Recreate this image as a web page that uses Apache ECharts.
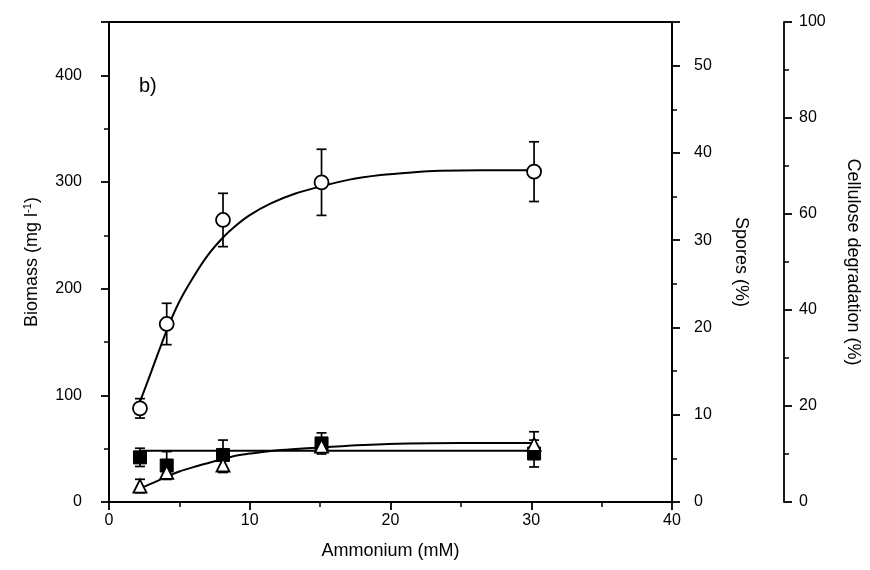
<!DOCTYPE html>
<html>
<head>
<meta charset="utf-8">
<script src="https://cdn.jsdelivr.net/npm/echarts@6/dist/echarts.min.js"></script>
<style>
  html, body { margin: 0; padding: 0; background: #fff; }
  #chart { width: 870px; height: 570px; }
</style>
</head>
<body>
<div id="chart"></div>
<script>
// ammonium concentrations (mM)
const ammonium = [2.2, 4.1, 8.1, 15.1, 30.2];
// biomass, open circles (mg l-1)
const biomass = [87.8, 166.9, 264.4, 299.7, 309.7];
const biomassErr = [9.1, 19.4, 25, 31, 28];
// spores, open triangles (%)
const spores = [1.83, 3.4, 4.24, 6.4, 6.6];
const sporesErr = [0.77, 0.3, 0.86, 0.6, 1.45];
// cellulose degradation, filled squares (%)
const cellulose = [9.3, 7.6, 9.8, 12.2, 10.1];
const celluloseErr = [1.9, 2.9, 3.1, 2.2, 2.8];
// fitted curves
const biomassFitX = [2.2, 3, 4.1, 5, 6, 7, 8.1, 9, 10, 11.5, 13.2, 15.1, 17, 19.3, 21.5, 23.5, 26.5, 30.2];
const biomassFit = [94, 122, 161, 188, 211, 231, 248, 259, 269, 280, 289, 296, 302, 306.5, 309, 310.5, 311, 311];
const sporesFitX = [2.2, 3, 4.1, 5, 6, 7, 8.1, 9, 10.1, 11.5, 13, 15.1, 17, 20.5, 25, 30.2];
const sporesFit = [1.56, 2.1, 2.9, 3.5, 4.0, 4.45, 4.93, 5.3, 5.57, 5.85, 6.05, 6.25, 6.45, 6.68, 6.75, 6.76];
const celluloseFitX = [2.2, 30.2];
const celluloseFit = [10.7, 10.7];

const zip = (xs, ys) => xs.map((x, i) => [x, ys[i]]);
const zip3 = (xs, ys, es) => xs.map((x, i) => [x, ys[i], es[i]]);

const font = 'Liberation Sans, Arial, sans-serif';

// error bar with caps
function errorBar(params, api) {
  const x = api.value(0), y = api.value(1), e = api.value(2);
  const top = api.coord([x, y + e]);
  const bot = api.coord([x, y - e]);
  const w = 5;
  const st = { stroke: '#000', lineWidth: 1.7 };
  return {
    type: 'group',
    children: [
      { type: 'line', shape: { x1: top[0], y1: top[1], x2: bot[0], y2: bot[1] }, style: st },
      { type: 'line', shape: { x1: top[0] - w, y1: top[1], x2: top[0] + w, y2: top[1] }, style: st },
      { type: 'line', shape: { x1: bot[0] - w, y1: bot[1], x2: bot[0] + w, y2: bot[1] }, style: st }
    ]
  };
}

const chart = echarts.init(document.getElementById('chart'));

const axisLine = { show: true, lineStyle: { color: '#000', width: 1.8 } };
const tick = { show: true, inside: false, length: 8, lineStyle: { color: '#000', width: 1.8 } };
const minor = { show: true, splitNumber: 2, length: 5, lineStyle: { color: '#000', width: 1.5 } };
const label = { color: '#000', fontSize: 16, fontFamily: font };
const nameStyle = { color: '#000', fontSize: 18, fontFamily: font };

chart.setOption({
  animation: false,
  backgroundColor: '#fff',
  grid: { left: 109, right: 198, top: 22, bottom: 68, show: true, borderColor: '#000', borderWidth: 1.8 },
  graphic: [{
    type: 'text', left: 139, top: 76,
    style: { text: 'b)', fontSize: 20, fontFamily: font, fill: '#000' }
  }],
  xAxis: {
    type: 'value', min: 0, max: 40, interval: 10,
    name: 'Ammonium (mM)', nameLocation: 'middle', nameGap: 40, nameTextStyle: nameStyle,
    axisLine: axisLine, axisTick: tick, minorTick: minor,
    axisLabel: Object.assign({ margin: 11 }, label),
    splitLine: { show: false }
  },
  yAxis: [
    {
      type: 'value', position: 'left', min: 0, max: 450, interval: 100,
      name: '{t|Biomass (mg l}{s|-1}{t|)}', nameLocation: 'middle', nameGap: 66,
      nameTextStyle: {
        rich: {
          t: { color: '#000', fontSize: 18, fontFamily: font },
          s: { color: '#000', fontSize: 11, fontFamily: font, verticalAlign: 'top', padding: [0, 0, 10, 0] }
        }
      },
      axisLine: axisLine, axisTick: tick, minorTick: minor,
      axisLabel: Object.assign({ margin: 27, showMaxLabel: false }, label),
      splitLine: { show: false }
    },
    {
      type: 'value', position: 'right', min: 0, max: 55, interval: 10,
      name: 'Spores (%)', nameLocation: 'middle', nameGap: 60, nameRotate: -90, nameTextStyle: nameStyle,
      axisLine: axisLine, axisTick: tick, minorTick: minor,
      axisLabel: Object.assign({ margin: 22, showMaxLabel: false, padding: [0, 0, 12, 0] }, label),
      splitLine: { show: false }
    },
    {
      type: 'value', position: 'right', offset: 112, min: 0, max: 100, interval: 20,
      name: 'Cellulose degradation (%)', nameLocation: 'middle', nameGap: 60, nameRotate: -90, nameTextStyle: nameStyle,
      axisLine: axisLine, axisTick: tick, minorTick: minor,
      axisLabel: Object.assign({ margin: 15, padding: [0, 0, 12, 0] }, label),
      splitLine: { show: false }
    }
  ],
  series: [
    // fit curves
    {
      type: 'line', yAxisIndex: 0, data: zip(biomassFitX, biomassFit), smooth: 0.3,
      showSymbol: false, lineStyle: { color: '#000', width: 2 }, z: 1
    },
    {
      type: 'line', yAxisIndex: 1, data: zip(sporesFitX, sporesFit), smooth: 0.3,
      showSymbol: false, lineStyle: { color: '#000', width: 2 }, z: 1
    },
    {
      type: 'line', yAxisIndex: 2, data: zip(celluloseFitX, celluloseFit),
      showSymbol: false, lineStyle: { color: '#000', width: 2 }, z: 1
    },
    // error bars
    { type: 'custom', yAxisIndex: 0, renderItem: errorBar, data: zip3(ammonium, biomass, biomassErr), encode: { x: 0, y: 1 }, z: 2 },
    { type: 'custom', yAxisIndex: 2, renderItem: errorBar, data: zip3(ammonium, cellulose, celluloseErr), encode: { x: 0, y: 1 }, z: 2 },
    { type: 'custom', yAxisIndex: 1, renderItem: errorBar, data: zip3(ammonium, spores, sporesErr), encode: { x: 0, y: 1 }, z: 2 },
    // markers
    {
      type: 'scatter', yAxisIndex: 0, data: zip(ammonium, biomass), symbol: 'circle', symbolSize: 14,
      itemStyle: { color: '#fff', borderColor: '#000', borderWidth: 1.8, opacity: 1 }, z: 3
    },
    {
      type: 'scatter', yAxisIndex: 2, data: zip(ammonium, cellulose), symbol: 'rect', symbolSize: 13,
      itemStyle: { color: '#000', borderColor: '#000', borderWidth: 1, opacity: 1 }, z: 3
    },
    {
      type: 'scatter', yAxisIndex: 1, data: zip(ammonium, spores), symbol: 'triangle', symbolSize: 13,
      itemStyle: { color: '#fff', borderColor: '#000', borderWidth: 1.8, opacity: 1 }, z: 4
    }
  ]
});
</script>
</body>
</html>
